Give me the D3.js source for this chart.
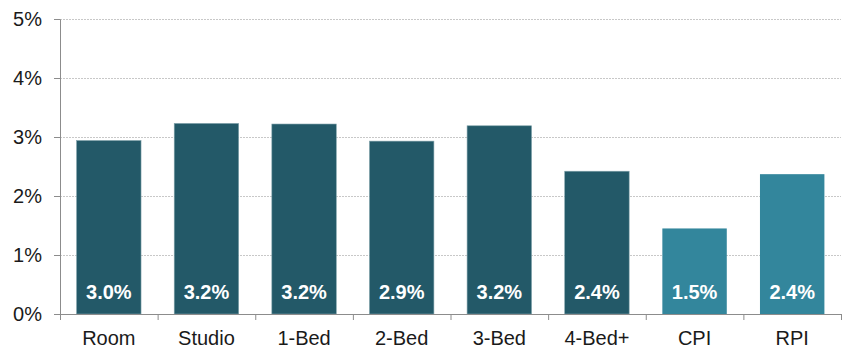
<!DOCTYPE html>
<html lang="en">
<head>
  <meta charset="UTF-8">
  <script src="https://d3js.org/d3.v7.min.js"></script>
  <style>
    body { margin: 0; background: #fff; }
    text { font-family: "Liberation Sans", Arial, sans-serif; }
  </style>
</head>
<body>
  <script>
    const w = 843;
    const h = 349;

    // data
    const categories = ["Room", "Studio", "1-Bed", "2-Bed", "3-Bed", "4-Bed+", "CPI", "RPI"];
    const values = [2.94, 3.23, 3.22, 2.93, 3.19, 2.42, 1.45, 2.37];
    const labels = ["3.0%", "3.2%", "3.2%", "2.9%", "3.2%", "2.4%", "1.5%", "2.4%"];
    const isIndex = [false, false, false, false, false, false, true, true];
    const yTicks = [0, 1, 2, 3, 4, 5];

    const margin = { left: 60, right: 841, top: 19, bottom: 314 };

    const svg = d3.select("body").append("svg")
      .attr("width", w)
      .attr("height", h);

    const x = d3.scaleBand()
      .domain(categories)
      .range([margin.left, margin.right])
      .paddingInner(0.34)
      .paddingOuter(0.17);

    const y = d3.scaleLinear()
      .domain([0, 5])
      .range([margin.bottom, margin.top]);

    // gridlines
    svg.selectAll("line.grid")
      .data(yTicks.slice(1))
      .enter()
      .append("line")
      .attr("class", "grid")
      .attr("x1", margin.left)
      .attr("x2", margin.right)
      .attr("y1", d => y(d) + 0.5)
      .attr("y2", d => y(d) + 0.5)
      .attr("stroke", "#c8c8c8")
      .attr("stroke-width", 1)
      .attr("stroke-dasharray", "2,1");

    // bars
    svg.selectAll("rect.bar")
      .data(values)
      .enter()
      .append("rect")
      .attr("class", "bar")
      .attr("x", (d, i) => x(categories[i]))
      .attr("y", d => y(d))
      .attr("width", x.bandwidth())
      .attr("height", d => margin.bottom - y(d))
      .attr("fill", (d, i) => isIndex[i] ? "#33869c" : "#235968")
      .attr("stroke", (d, i) => isIndex[i] ? "none" : "#7fa1aa")
      .attr("stroke-width", 0.6);

    // value labels inside bars
    svg.selectAll("text.val")
      .data(labels)
      .enter()
      .append("text")
      .attr("class", "val")
      .text(d => d)
      .attr("x", (d, i) => x(categories[i]) + x.bandwidth() / 2)
      .attr("y", 299)
      .attr("text-anchor", "middle")
      .attr("fill", "white")
      .attr("font-weight", "bold")
      .attr("font-size", "20px");

    // y axis
    const yAxis = d3.axisLeft(y)
      .tickValues(yTicks)
      .tickFormat(d => d + "%")
      .tickSize(6)
      .tickPadding(12);

    const gy = svg.append("g")
      .attr("transform", "translate(" + margin.left + ",0)")
      .call(yAxis);
    gy.select(".domain").attr("stroke", "#8c8c8c");
    gy.selectAll(".tick line").attr("stroke", "#8c8c8c");
    gy.selectAll(".tick text")
      .attr("font-size", "20px")
      .attr("fill", "#1a1a1a")
      .attr("font-family", "Liberation Sans, Arial, sans-serif");

    // x axis with ticks between categories
    svg.append("line")
      .attr("x1", margin.left - 6)
      .attr("x2", margin.right)
      .attr("y1", margin.bottom + 0.5)
      .attr("y2", margin.bottom + 0.5)
      .attr("stroke", "#8c8c8c");

    const bandEdge = d => margin.left + d * (margin.right - margin.left) / categories.length;
    svg.selectAll("line.xtick")
      .data(d3.range(categories.length + 1))
      .enter()
      .append("line")
      .attr("class", "xtick")
      .attr("x1", d => bandEdge(d) + 0.5)
      .attr("x2", d => bandEdge(d) + 0.5)
      .attr("y1", margin.bottom)
      .attr("y2", margin.bottom + 6)
      .attr("stroke", "#8c8c8c");

    svg.selectAll("text.cat")
      .data(categories)
      .enter()
      .append("text")
      .attr("class", "cat")
      .text(d => d)
      .attr("x", d => x(d) + x.bandwidth() / 2)
      .attr("y", 345)
      .attr("text-anchor", "middle")
      .attr("font-size", "20px")
      .attr("fill", "#1a1a1a");
  </script>
</body>
</html>
